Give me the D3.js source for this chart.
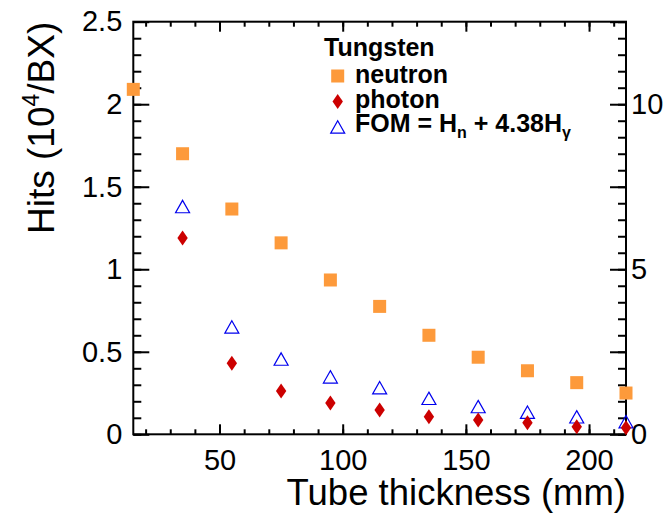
<!DOCTYPE html>
<html>
<head>
<meta charset="utf-8">
<script src="https://cdn.jsdelivr.net/npm/d3@7"></script>
<style>
  html, body { margin: 0; padding: 0; background: #fff; }
  svg { display: block; }
  text { font-family: "Liberation Sans", Arial, Helvetica, sans-serif; fill: #000; }
</style>
</head>
<body>
<svg id="chart" width="666" height="513"></svg>
<script>
// Tube thickness (mm) for each simulated configuration
const thickness = [15, 35, 55, 75, 95, 115, 135, 155, 175, 195, 215];
// Neutron hits, 10^4 per bunch crossing (left axis)
const neutron = [2.09, 1.70, 1.365, 1.16, 0.935, 0.775, 0.60, 0.467, 0.385, 0.313, 0.25];
// Photon hits, 10^4 per bunch crossing (left axis)
const photon = [null, 1.19, 0.43, 0.262, 0.19, 0.147, 0.107, 0.087, 0.07, 0.046, 0.04];
// Figure of merit Hn + 4.38 Hγ (right axis)
const fom = [null, 6.9, 3.25, 2.28, 1.74, 1.41, 1.09, 0.84, 0.67, 0.53, 0.38];

// Axis tick values
const xMajor = [50, 100, 150, 200];
const xMinor = d3.range(20, 215, 10);
const yLeftMajor = [0, 0.5, 1, 1.5, 2, 2.5];
const yLeftMinor = d3.range(0, 25).map(i => i / 10);
const yRightLabels = [0, 5, 10];
const yRightMajor = [0, 2.5, 5, 7.5, 10, 12.5];
const yRightMinor = d3.range(0, 26).map(i => i / 2);

const legendTitle = "Tungsten";

const colors = { neutron: "#fd9a3b", photon: "#cc0000", fom: "#0000ee" };

const svg = d3.select("#chart");
const L = 133.3, R = 626, T = 21.7, B = 434.3;

const x = d3.scaleLinear().domain([15, 215]).range([L, R]);
const yL = d3.scaleLinear().domain([0, 2.5]).range([B, T]);
const yR = d3.scaleLinear().domain([0, 12.5]).range([B, T]);

const tickFont = 29;

function styleAxis(g, fontSize) {
  g.select(".domain").remove();
  g.selectAll(".tick line").attr("stroke", "#000").attr("stroke-width", 2);
  g.selectAll("text")
    .attr("font-size", fontSize)
    .attr("font-family", '"Liberation Sans", Arial, Helvetica, sans-serif');
  g.attr("font-size", null).attr("font-family", null);
}

// Bottom axis: labelled majors and minor ticks, pointing into the frame
svg.append("g").attr("transform", `translate(0,${B})`)
  .call(d3.axisBottom(x).tickValues(xMinor).tickSize(-5).tickFormat(() => ""))
  .call(g => styleAxis(g, tickFont));
svg.append("g").attr("transform", `translate(0,${B})`)
  .call(d3.axisBottom(x).tickValues(xMajor).tickSize(-10).tickPadding(15).tickFormat(d3.format("d")))
  .call(g => styleAxis(g, tickFont));

// Top axis mirrors the x ticks
svg.append("g").attr("transform", `translate(0,${T})`)
  .call(d3.axisTop(x).tickValues(xMinor).tickSize(-5).tickFormat(() => ""))
  .call(g => styleAxis(g, tickFont));
svg.append("g").attr("transform", `translate(0,${T})`)
  .call(d3.axisTop(x).tickValues(xMajor).tickSize(-10).tickFormat(() => ""))
  .call(g => styleAxis(g, tickFont));

// Left axis: hits
svg.append("g").attr("transform", `translate(${L},0)`)
  .call(d3.axisLeft(yL).tickValues(yLeftMinor).tickSize(-8).tickFormat(() => ""))
  .call(g => styleAxis(g, tickFont));
svg.append("g").attr("transform", `translate(${L},0)`)
  .call(d3.axisLeft(yL).tickValues(yLeftMajor).tickSize(-16).tickPadding(11).tickFormat(d3.format("")))
  .call(g => styleAxis(g, tickFont));

// Right axis: figure of merit
svg.append("g").attr("transform", `translate(${R},0)`)
  .call(d3.axisRight(yR).tickValues(yRightMinor).tickSize(-8).tickFormat(() => ""))
  .call(g => styleAxis(g, tickFont));
svg.append("g").attr("transform", `translate(${R},0)`)
  .call(d3.axisRight(yR).tickValues(yRightMajor).tickSize(-16).tickPadding(5)
    .tickFormat(d => yRightLabels.includes(d) ? d3.format("d")(d) : ""))
  .call(g => styleAxis(g, tickFont));

// Frame
svg.append("rect")
  .attr("x", L).attr("y", T).attr("width", R - L).attr("height", B - T)
  .attr("fill", "none").attr("stroke", "#000").attr("stroke-width", 2);

// Axis titles
svg.append("text")
  .attr("x", R).attr("y", 505)
  .attr("text-anchor", "end")
  .attr("font-size", 36.5)
  .text("Tube thickness (mm)");

const yt = svg.append("text")
  .attr("transform", `translate(54,${T}) rotate(-90)`)
  .attr("text-anchor", "end")
  .attr("font-size", 37);
yt.append("tspan").text("Hits (10");
yt.append("tspan").attr("font-size", 23).attr("dy", -15).text("4");
yt.append("tspan").attr("dy", 15).text("/BX)");

// Marker shapes
const sq = 13;
function square(g, cx, cy) {
  g.append("rect").attr("x", cx - sq / 2).attr("y", cy - sq / 2)
    .attr("width", sq).attr("height", sq).attr("fill", colors.neutron);
}
function diamond(g, cx, cy) {
  const w = 5.2, h = 7.5;
  g.append("path")
    .attr("d", `M${cx},${cy - h}L${cx + w},${cy}L${cx},${cy + h}L${cx - w},${cy}Z`)
    .attr("fill", colors.photon);
}
function triangle(g, cx, cy) {
  const w = 7, h = 6.2;
  g.append("path")
    .attr("d", `M${cx},${cy - h}L${cx + w},${cy + h}L${cx - w},${cy + h}Z`)
    .attr("fill", "none").attr("stroke", colors.fom).attr("stroke-width", 1.2);
}

const marks = svg.append("g");
thickness.forEach((t, i) => {
  if (fom[i] != null) triangle(marks, x(t), yR(fom[i]));
});
thickness.forEach((t, i) => {
  if (photon[i] != null) diamond(marks, x(t), yL(photon[i]));
});
thickness.forEach((t, i) => {
  if (neutron[i] != null) square(marks, x(t), yL(neutron[i]));
});

// Legend
const leg = svg.append("g");
leg.append("text").attr("x", 324).attr("y", 56)
  .attr("font-size", 25).attr("font-weight", "bold").text(legendTitle);
square(leg, 337.7, 76);
diamond(leg, 337.7, 101.5);
triangle(leg, 337.7, 127);
leg.append("text").attr("x", 355).attr("y", 83)
  .attr("font-size", 25).attr("font-weight", "bold").text("neutron");
leg.append("text").attr("x", 355).attr("y", 107.5)
  .attr("font-size", 25).attr("font-weight", "bold").text("photon");
const ft = leg.append("text").attr("x", 355).attr("y", 132)
  .attr("font-size", 25).attr("font-weight", "bold");
ft.append("tspan").text("FOM = H");
ft.append("tspan").attr("font-size", 16).attr("dy", 6).text("n");
ft.append("tspan").attr("dy", -6).text(" + 4.38H");
ft.append("tspan").attr("font-size", 16).attr("dy", 6).text("γ");
</script>
</body>
</html>
